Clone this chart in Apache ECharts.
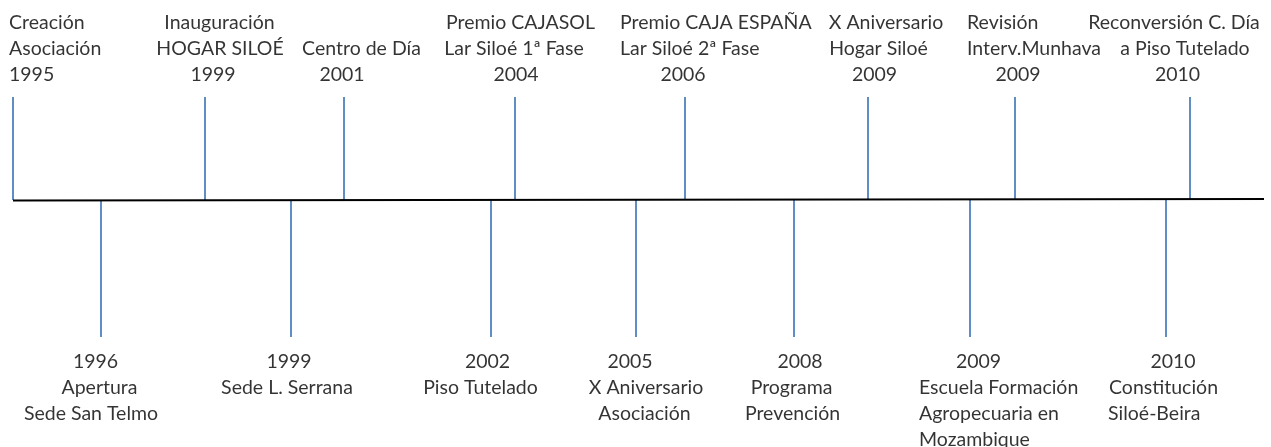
<!DOCTYPE html>
<html><head><meta charset="utf-8">
<script src="https://cdn.jsdelivr.net/npm/echarts@6/dist/echarts.min.js"></script>
<style>html,body{margin:0;padding:0;background:#fff}#c{width:1271px;height:447px}</style>
</head><body><div id="c"></div>
<script>
// ---- data ----
const topEvents = [
  'Creación\nAsociación\n1995',
  'Inauguración\nHOGAR SILOÉ\n1999',
  '\nCentro de Día\n2001',
  'Premio CAJASOL\nLar Siloé 1ª Fase\n2004',
  'Premio CAJA ESPAÑA\nLar Siloé 2ª Fase\n2006',
  'X Aniversario\nHogar Siloé\n2009',
  'Revisión\nInterv.Munhava\n2009',
  'Reconversión C. Día\na Piso Tutelado\n2010'
];
const topPos = [13, 205, 344, 515, 685, 868, 1015, 1190];
const bottomEvents = [
  '1996\nApertura\nSede San Telmo',
  '1999\nSede L. Serrana',
  '2002\nPiso Tutelado',
  '2005\nX Aniversario\nAsociación',
  '2008\nPrograma\nPrevención',
  '2009\nEscuela Formación\nAgropecuaria en\nMozambique',
  '2010\nConstitución\nSiloé-Beira'
];
const bottomPos = [101, 291, 491, 636, 794, 970, 1166];
const axisStart = 13, axisEnd = 1264;

// ---- layout (text line anchors, relative offsets from each tick) ----
const topLineY = [23, 49, 75];
const bottomLineY = [362, 388, 414, 440];
const topAnchor = [
  [['left', -4], ['left', -4], ['left', -4]],
  [['center', 14.5], ['center', 15], ['center', 8]],
  [null, ['center', 17.5], ['center', -2]],
  [['center', 5.5], ['center', -1], ['center', 1]],
  [['left', -65], ['left', -65], ['center', -2]],
  [['center', 18], ['center', 10.5], ['center', 6.5]],
  [['left', -48], ['left', -48], ['center', 3]],
  [['center', -16], ['center', -5], ['center', -12.5]]
];
const bottomAnchor = [
  [['center', -5.5], ['center', -1.5], ['center', -10]],
  [['center', -2], ['center', -4]],
  [['center', -3.5], ['center', -10.5]],
  [['center', -6], ['center', 10], ['center', 8.5]],
  [['center', 6], ['center', -2.5], ['center', -1.5]],
  [['center', 8.5], ['left', -51], ['left', -51], ['left', -51]],
  [['center', 7], ['center', -2.5], ['left', -58]]
];
const topTickY = [97, 200], bottomTickY = [200, 337];

const labelItems = [];
function addLabels(events, pos, anchors, ys) {
  events.forEach((t, i) => {
    t.split('\n').forEach((line, j) => {
      const a = anchors[i][j];
      if (!line || !a) return;
      labelItems.push({
        value: [pos[i] + a[1], ys[j]],
        label: { formatter: line, align: a[0] }
      });
    });
  });
}
addLabels(topEvents, topPos, topAnchor, topLineY);
addLabels(bottomEvents, bottomPos, bottomAnchor, bottomLineY);

const tickLines = [];
topPos.forEach(x => tickLines.push({ coords: [[x, topTickY[0]], [x, topTickY[1]]] }));
bottomPos.forEach(x => tickLines.push({ coords: [[x, bottomTickY[0]], [x, bottomTickY[1]]] }));

const chart = echarts.init(document.getElementById('c'), null, { renderer: 'canvas' });
chart.setOption({
  animation: false,
  backgroundColor: '#ffffff',
  grid: { left: 0, right: 0, top: 0, bottom: 0 },
  xAxis: { type: 'value', min: 0, max: 1271, show: false },
  yAxis: { type: 'value', min: 0, max: 447, inverse: true, show: false },
  series: [
    {
      type: 'lines', coordinateSystem: 'cartesian2d', silent: true,
      lineStyle: { color: '#4F81BD', width: 1.8, opacity: 1 },
      data: tickLines
    },
    {
      type: 'lines', coordinateSystem: 'cartesian2d', silent: true,
      lineStyle: { color: '#000000', width: 2, opacity: 1 },
      data: [{ coords: [[axisStart, 200.5], [axisEnd, 199]] }]
    },
    {
      type: 'scatter', symbolSize: 0, silent: true,
      label: {
        show: true, position: 'inside', color: '#000000',
        fontFamily: 'Lato', fontSize: 19.5, verticalAlign: 'middle'
      },
      data: labelItems
    }
  ]
});
</script>
</body></html>
